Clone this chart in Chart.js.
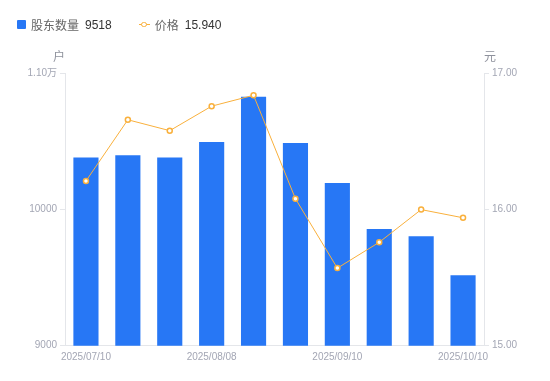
<!DOCTYPE html>
<html><head><meta charset="utf-8">
<script src="https://cdn.jsdelivr.net/npm/chart.js@4/dist/chart.umd.min.js"></script>
<style>
html,body{margin:0;padding:0;background:#fff;}
#wrap{position:relative;width:550px;height:381px;}
#legend{position:absolute;left:17px;top:16px;font:12px "Liberation Sans","Noto Sans CJK SC",sans-serif;color:#333;display:flex;align-items:center;white-space:nowrap;}
#legend .item{display:flex;align-items:center;margin-right:27px;}
.sq{width:9px;height:9px;background:#2777F5;border-radius:1px;margin-right:5px;}
.ln{position:relative;width:11px;height:9px;margin-right:5px;}
.ln:before{content:"";position:absolute;left:0;right:0;top:4px;height:1px;background:#F9B03C;}
.ln:after{content:"";position:absolute;left:2.5px;top:1.5px;width:3.5px;height:3.5px;border:1.5px solid #F9B03C;border-radius:50%;background:#fff;}
.lab{color:#666;margin-right:6px;}
canvas{position:absolute;left:0;top:0;}
</style></head>
<body><div id="wrap"><canvas id="c" width="550" height="381"></canvas>
<div id="legend"></div></div>
<script>
const categories = ['2025/07/10','2025/07/18','2025/07/31','2025/08/08','2025/08/20','2025/08/29','2025/09/10','2025/09/19','2025/09/30','2025/10/10'];
const holders = [10383, 10400, 10383, 10496, 10829, 10489, 10195, 9857, 9805, 9518];
const prices = [16.21, 16.66, 16.58, 16.76, 16.84, 16.08, 15.57, 15.76, 16.00, 15.94];
const shownTickIdx = [0, 3, 6, 9];
const leftTicks = [9000, 10000, 11000];
const rightTicks = [15, 16, 17];

const FONT = '"Liberation Sans","Noto Sans CJK SC",sans-serif';
const TICKC = '#A3A6B4';
const AXISC = '#E4E6EA';

document.getElementById('legend').innerHTML =
 '<div class="item"><div class="sq"></div><span class="lab">股东数量</span><span>'+holders[holders.length-1]+'</span></div>'+
 '<div class="item"><div class="ln"></div><span class="lab">价格</span><span>'+prices[prices.length-1].toFixed(3)+'</span></div>';

const titles = {
 id:'titles',
 afterDraw(chart){
  const ctx=chart.ctx, a=chart.chartArea;
  ctx.save();
  ctx.font='12px '+FONT; ctx.fillStyle='#8E919C'; ctx.textBaseline='middle';
  ctx.textAlign='center';
  ctx.fillText('户', a.left-6, a.top-16);
  ctx.fillText('元', a.right+6, a.top-16);
  ctx.restore();
 }
};

new Chart(document.getElementById('c'), {
 data:{
  labels:categories,
  datasets:[
   {type:'line', label:'价格', data:prices, yAxisID:'y1', borderColor:'#F9B03C', borderWidth:1,
    pointRadius:2.5, pointBorderWidth:1.5, pointBackgroundColor:'#fff', pointBorderColor:'#F9B03C', tension:0, order:0},
   {type:'bar', label:'股东数量', data:holders, yAxisID:'y', backgroundColor:'#2777F5', borderWidth:0,
    categoryPercentage:1, barPercentage:0.6, order:1}
  ]
 },
 options:{
  responsive:false, animation:false,
  layout:{padding:{top:73.5,left:0,right:0,bottom:0}},
  plugins:{legend:{display:false}, tooltip:{enabled:false}},
  scales:{
   x:{
    grid:{display:false, drawTicks:false},
    border:{display:true,color:AXISC},
    ticks:{autoSkip:false, maxRotation:0, color:TICKC, font:{size:10,family:FONT}, padding:6,
      callback:function(v,i){return shownTickIdx.includes(i)?categories[i]:'';}},
    afterFit(s){s.height=35.3;}
   },
   y:{
    position:'left', min:leftTicks[0], max:leftTicks[leftTicks.length-1],
    afterBuildTicks(s){s.ticks=leftTicks.map(v=>({value:v}));},
    grid:{drawOnChartArea:false, tickLength:5, color:AXISC},
    border:{color:AXISC},
    ticks:{color:TICKC, font:{size:10,family:FONT}, padding:3,
      callback:v=> v>=11000 ? (v/10000).toFixed(2)+'万' : String(v)},
    afterFit(s){s.width=65;}
   },
   y1:{
    position:'right', min:rightTicks[0], max:rightTicks[rightTicks.length-1],
    afterBuildTicks(s){s.ticks=rightTicks.map(v=>({value:v}));},
    grid:{drawOnChartArea:false, tickLength:5, color:AXISC},
    border:{color:AXISC},
    ticks:{color:TICKC, font:{size:10,family:FONT}, padding:3, callback:v=>Number(v).toFixed(2)},
    afterFit(s){s.width=66;}
   }
  }
 },
 plugins:[titles]
});
</script></body></html>
